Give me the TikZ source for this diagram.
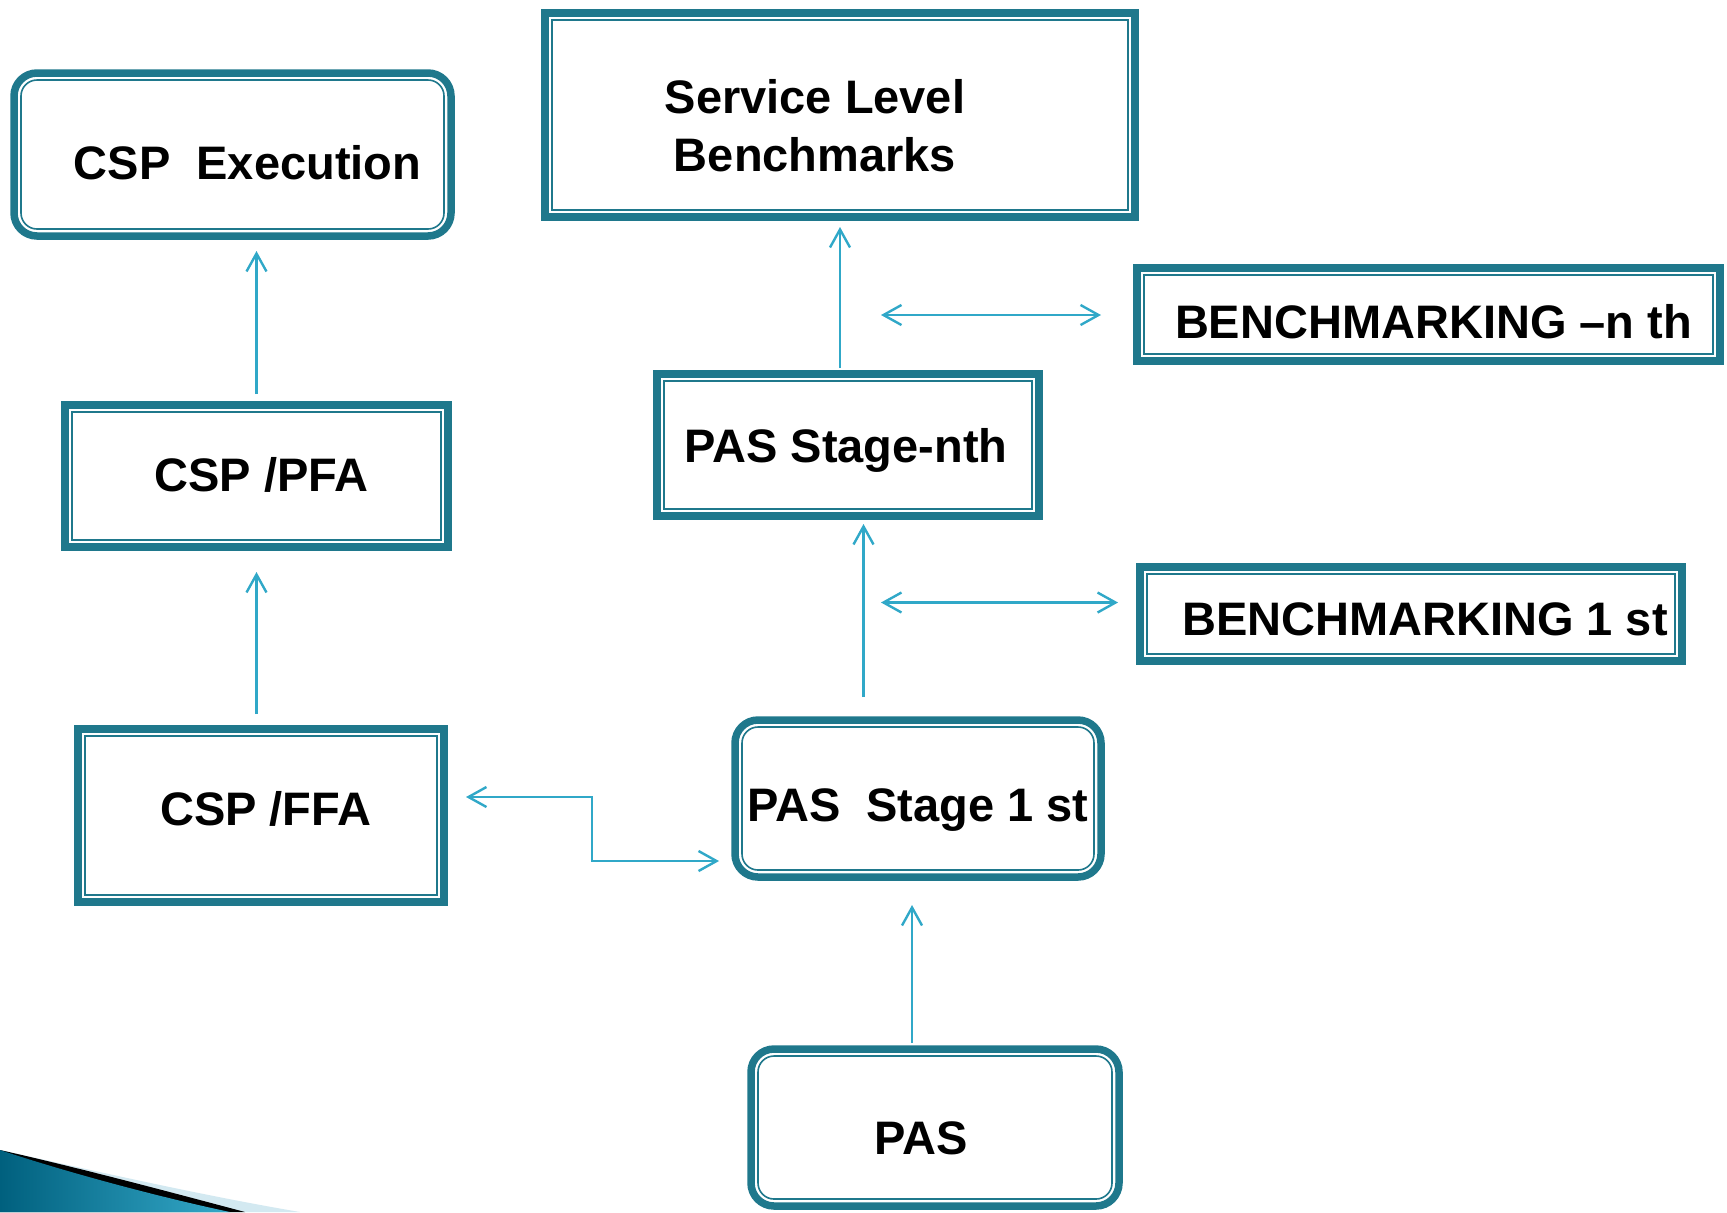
\documentclass[tikz,border=0pt]{standalone}
\usepackage{fontspec}
\setmainfont{Liberation Sans}
\usetikzlibrary{arrows.meta,calc}
\definecolor{boxc}{HTML}{1F788C}
\definecolor{arrc}{HTML}{30A8C8}
\definecolor{swA}{HTML}{00607E}
\definecolor{swB}{HTML}{35A9C9}
\definecolor{swL}{HTML}{D3E9F1}
\newcommand\inframe[2]{\draw[inline,rounded corners=#2] ([shift={(3.5pt,-3.5pt)}]#1.north west) rectangle ([shift={(-3.5pt,3.5pt)}]#1.south east);}
\begin{document}
\begin{tikzpicture}[x=0.5pt,y=-0.5pt,
  sbox/.style={draw=boxc,line width=3.75pt,inner sep=0pt,outer sep=0pt,fill=white},
  rbox/.style={sbox,rounded corners=11.5pt},
  inline/.style={draw=boxc,line width=0.8pt},
  lbl/.style={font=\bfseries\fontsize{23.5}{29}\selectfont,align=center,inner sep=0pt,text height=17pt,text depth=0pt},
  arr/.style={draw=arrc,line width=1.2pt,-{Straight Barb[length=9pt,width=10pt]}},
  arrd/.style={draw=arrc,line width=1.2pt,{Straight Barb[length=9pt,width=10pt]}-{Straight Barb[length=9pt,width=10pt]}}
  ]
\useasboundingbox (0,0) rectangle (1727,1212);
\fill[white] (0,0) rectangle (1727,1212);

% swoosh
\fill[swL] (0,1212) -- (0,1150) .. controls (100,1172) and (200,1195) .. (300,1212) -- cycle;
\fill[black] (0,1212) -- (0,1150) .. controls (80,1168) and (170,1192) .. (245,1212) -- cycle;
\shade[left color=swA,right color=swB] (0,1212) -- (0,1150) .. controls (60,1170) and (150,1195) .. (230,1212) -- cycle;

% boxes
\node[rbox,minimum width=218.5pt,minimum height=81.5pt,
  label={[lbl,name=exet,xshift=7.5pt,yshift=-4pt]center:CSP~~Execution}] (exe) at (232.5,154.5) {};
\inframe{exe}{8pt}
\node[sbox,minimum width=295pt,minimum height=102pt,
  label={[lbl,name=slbt,xshift=-12.5pt,yshift=-19.5pt]center:{Service Level\\Benchmarks}}] (slb) at (840,115) {};
\inframe{slb}{0pt}
\node[sbox,minimum width=291.5pt,minimum height=46.5pt,
  label={[lbl,name=bnt,xshift=2.5pt,yshift=-3.5pt]center:BENCHMARKING –n th}] (bn) at (1428.5,314.5) {};
\inframe{bn}{0pt}
\node[sbox,minimum width=191pt,minimum height=71pt,
  label={[lbl,name=psnt,xshift=-1pt]center:PAS Stage-nth}] (psn) at (848,445) {};
\inframe{psn}{0pt}
\node[sbox,minimum width=191.5pt,minimum height=71pt,
  label={[lbl,name=pfat,xshift=2.5pt,yshift=1pt]center:CSP /PFA}] (pfa) at (256.5,476) {};
\inframe{pfa}{0pt}
\node[sbox,minimum width=271pt,minimum height=47pt,
  label={[lbl,name=b1t,xshift=7pt,yshift=-2pt]center:BENCHMARKING 1 st}] (b1) at (1411,614) {};
\inframe{b1}{0pt}
\node[sbox,minimum width=183pt,minimum height=86.5pt,
  label={[lbl,name=ffat,xshift=2.5pt,yshift=3.5pt]center:CSP /FFA}] (ffa) at (261,815.5) {};
\inframe{ffa}{0pt}
\node[rbox,minimum width=183pt,minimum height=78.5pt,
  label={[lbl,name=ps1t,yshift=-3pt]center:PAS~~Stage 1 st}] (ps1) at (918,798.5) {};
\inframe{ps1}{8pt}
\node[rbox,minimum width=184pt,minimum height=78.5pt,
  label={[lbl,name=past,xshift=-7pt,yshift=-5pt]center:PAS}] (pas) at (935,1127.5) {};
\inframe{pas}{8pt}

% connectors
\draw[arr,shorten <=5.5pt,shorten >=7.5pt] (pfa.north) -- (pfa.north |- exe.south);
\draw[arr,shorten <=7.5pt,shorten >=12.5pt] (pfa.south |- ffa.north) -- (pfa.south);
\draw[arr,shorten <=3pt,shorten >=5pt] (slb.south |- psn.north) -- (slb.south);
\coordinate (c5) at ($(psn.south)+(15.5,0)$);
\draw[arr,shorten <=11.5pt,shorten >=4pt] (c5 |- ps1.north) -- (c5);
\coordinate (c7) at ($(ps1.south)+(-6,0)$);
\draw[arr,shorten <=3pt,shorten >=14pt] (c7 |- pas.north) -- (c7);
\coordinate (d4) at (881,315);
\draw[arrd,shorten >=18pt] (d4) -- (d4 -| bn.west);
\coordinate (d6) at (881,602.5);
\draw[arrd,shorten >=11pt] (d6) -- (d6 -| b1.west);
\coordinate (e8) at (592,797);
\coordinate (f8) at (592,861);
\draw[arrd,shorten <=11pt,shorten >=8pt] (e8 -| ffa.east) -- (e8) -- (f8) -- (f8 -| ps1.west);
\end{tikzpicture}
\end{document}
